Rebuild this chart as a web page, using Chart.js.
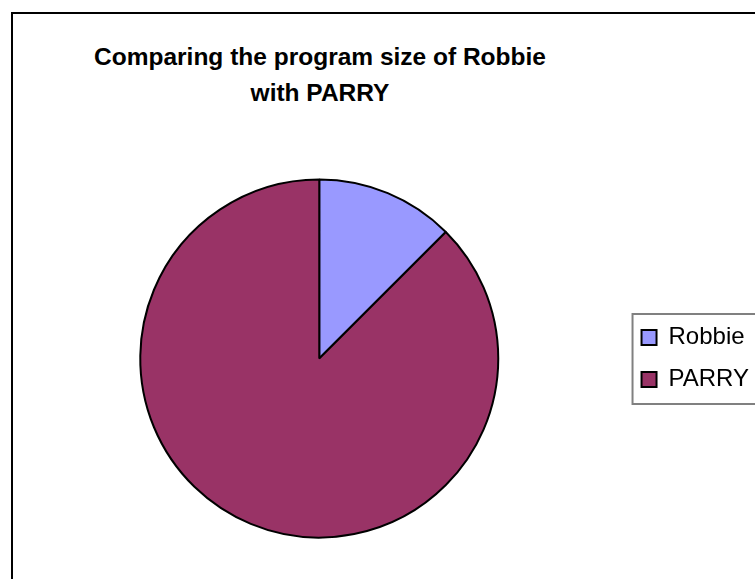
<!DOCTYPE html>
<html>
<head>
<meta charset="utf-8">
<script src="https://cdn.jsdelivr.net/npm/chart.js@4.4.0/dist/chart.umd.min.js"></script>
<style>
  html, body { margin: 0; padding: 0; background: #fff; overflow: hidden; }
  #wrap { position: relative; width: 755px; height: 579px; overflow: hidden; }
  #frame { position: absolute; left: 11px; top: 12px; width: 900px; height: 700px; border: 2px solid #000; box-sizing: border-box; }
  #title { position: absolute; left: 0; top: 39px; width: 640px; text-align: center;
           font: bold 24.5px "Liberation Sans", Arial, sans-serif; line-height: 36px; color: #000; }
  #holder { position: absolute; left: 0; top: 0; width: 759px; height: 579px; }
</style>
</head>
<body>
<div id="wrap">
  <div id="frame"></div>
  <div id="title">Comparing the program size of Robbie<br>with PARRY</div>
  <div id="holder"><canvas id="pieChart"></canvas></div>
</div>
<script>
// program sizes (Robbie is about 1/8 of the total)
const programs = ['Robbie', 'PARRY'];
const programSize = [1, 7];
const sliceColors = ['#9999FF', '#993366'];

// grey frame round the legend entries, open on the right like the cropped original
const legendFrame = {
  id: 'legendFrame',
  afterDraw(chart) {
    const hb = chart.legend.legendHitBoxes;
    if (!hb || !hb.length) return;
    const first = hb[0], last = hb[hb.length - 1];
    const ctx = chart.ctx;
    const x = first.left - 9;
    const y = first.top - 11.5;
    const b = last.top + last.height + 12.5;
    ctx.save();
    ctx.strokeStyle = '#808080';
    ctx.lineWidth = 2;
    ctx.beginPath();
    ctx.moveTo(chart.width + 50, y);
    ctx.lineTo(x, y);
    ctx.lineTo(x, b);
    ctx.lineTo(chart.width + 50, b);
    ctx.stroke();
    ctx.restore();
  }
};

new Chart(document.getElementById('pieChart'), {
  type: 'pie',
  data: {
    labels: programs,
    datasets: [{
      data: programSize,
      backgroundColor: sliceColors,
      borderColor: '#000',
      borderWidth: 2
    }]
  },
  options: {
    responsive: true,
    maintainAspectRatio: false,
    animation: false,
    radius: 179,
    layout: { padding: { top: 179, bottom: 41, left: 15, right: 0 } },
    plugins: {
      tooltip: { enabled: false },
      title: { display: false },
      legend: {
        position: 'right',
        labels: {
          boxWidth: 15,
          boxHeight: 15,
          padding: 18,
          color: '#000',
          font: { family: '"Liberation Sans", Arial, sans-serif', size: 24 }
        }
      }
    }
  },
  plugins: [legendFrame]
});
</script>
</body>
</html>
